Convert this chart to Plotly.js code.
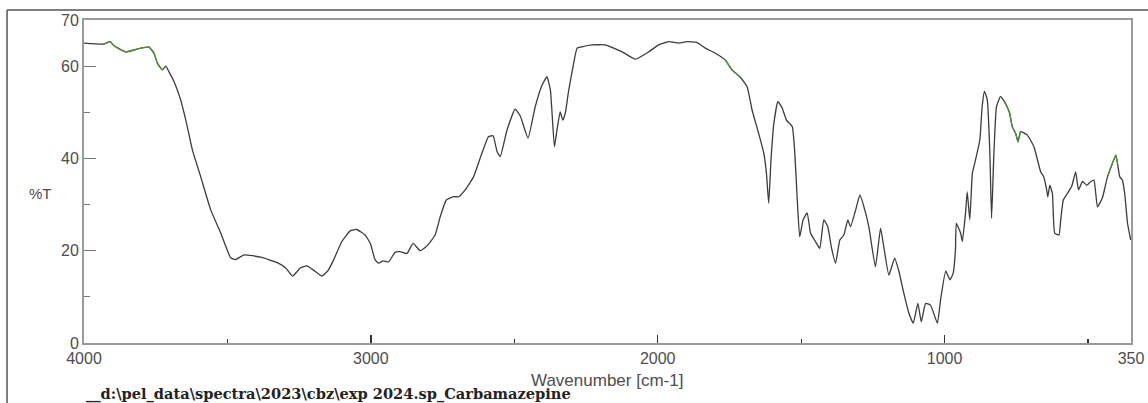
<!DOCTYPE html>
<html>
<head>
<meta charset="utf-8">
<script src="https://cdn.plot.ly/plotly-3.0.1.min.js"></script>
<style>
  html, body { margin: 0; padding: 0; background: #ffffff; }
  #chart { width: 1148px; height: 403px; }
</style>
</head>
<body>
<div id="chart"></div>
<script>
// Wavenumber (cm-1)
const wavenumber = [4000,3930,3909,3895,3855,3826,3802,3773,3756,3744,3727,3715,3704,3686,3663,3651,3640,3622,3593,3558,3523,3488,3471,3442,3384,3326,3296,3273,3245,3223,3200,3171,3148,3130,3101,3072,3049,3020,3002,2985,2973,2956,2938,2915,2898,2874,2853,2828,2805,2776,2758,2737,2712,2694,2671,2642,2613,2590,2574,2560,2549,2525,2497,2479,2452,2427,2403,2386,2374,2360,2351,2340,2331,2322,2311,2293,2281,2264,2229,2183,2124,2078,2031,1997,1962,1927,1898,1863,1834,1799,1764,1741,1712,1688,1671,1648,1630,1621,1613,1605,1595,1581,1566,1551,1531,1522,1514,1505,1493,1479,1467,1450,1435,1421,1407,1395,1380,1365,1351,1337,1328,1310,1295,1281,1264,1241,1223,1212,1194,1174,1159,1142,1124,1109,1093,1081,1066,1049,1025,1014,996,981,970,962,959,944,938,927,921,912,903,892,877,869,861,851,842,836,828,819,805,791,782,773,764,752,744,735,712,688,665,654,644,640,633,624,616,601,595,586,572,557,543,533,519,504,490,479,467,450,432,415,403,397,389,380,372,362,351];
// Transmittance (%T)
const transmittance = [65.0,64.8,65.3,64.4,63.1,63.5,63.9,64.1,62.8,60.6,59.2,60.0,58.8,56.6,52.7,49.8,46.9,41.8,36.0,28.8,23.8,18.4,18.1,19.1,18.6,17.4,16.2,14.5,16.3,16.7,15.8,14.5,15.8,18.0,22.0,24.3,24.6,23.4,21.6,18.0,17.3,17.8,17.6,19.7,19.8,19.4,21.6,20.0,21.0,23.4,27.4,31.0,31.7,31.7,33.2,36.0,41.1,44.7,44.9,41.5,40.4,46.2,50.7,49.2,44.4,51.2,55.9,57.7,54.8,42.5,46.2,50.1,48.3,49.8,54.5,60.6,63.9,64.2,64.6,64.6,63.1,61.5,63.1,64.6,65.3,65.0,65.3,65.1,63.9,62.8,61.3,59.2,57.6,55.5,50.5,45.4,41.1,36.8,30.3,39.7,47.6,52.3,50.9,48.3,46.9,41.1,31.7,23.0,26.7,28.2,23.8,22.0,20.5,26.7,25.2,20.9,17.3,22.3,23.4,26.7,25.2,28.8,32.1,29.5,25.2,16.5,24.9,20.9,14.7,18.4,15.5,10.8,6.4,4.3,8.6,4.6,8.6,8.2,4.3,9.3,15.6,13.7,15.1,20.2,25.9,23.8,22.0,28.1,32.8,26.7,36.8,39.7,44.0,51.2,54.5,52.7,41.1,27.0,41.1,51.2,53.4,52.3,51.2,49.8,46.9,45.4,43.6,45.8,45.1,42.5,37.1,36.0,33.2,31.7,34.2,32.4,23.8,23.4,26.7,31.0,32.4,33.9,37.1,33.2,35.0,34.2,35.0,35.3,29.5,31.4,36.0,38.9,40.7,38.9,36.0,35.3,32.4,25.9,22.3];
// Axis ticks
const xTickVals = [4000, 3000, 2000, 1000, 350];
const xTickText = ["4000", "3000", "2000", "1000", "350"];
const yTickVals = [0, 20, 40, 60, 70];
const yTickText = ["0", "20", "40", "60", "70"];
// Regions drawn in green (noisy parts of the trace)
const greenRanges = [[3935, 3750], [3745, 3712], [1790, 1700], [800, 735], [432, 395]];

const inGreen = w => greenRanges.some(r => w <= r[0] && w >= r[1]);
const greenY = transmittance.map((t, i) => inGreen(wavenumber[i]) ? t : null);

const tickFont = { family: "Liberation Sans, Arial, sans-serif", size: 16, color: "#4d4d4d" };

const traces = [
  {
    x: wavenumber, y: transmittance, type: "scatter", mode: "lines",
    line: { color: "#3c3c3c", width: 1.3, shape: "spline", smoothing: 0.4 }, hoverinfo: "skip", showlegend: false
  },
  {
    x: wavenumber, y: greenY, type: "scatter", mode: "lines", connectgaps: false,
    line: { color: "#4f8f3a", width: 1.3, shape: "spline", smoothing: 0.4 }, hoverinfo: "skip", showlegend: false
  }
];

const layout = {
  width: 1148, height: 403,
  margin: { l: 84, r: 17, t: 20, b: 60, pad: 0 },
  paper_bgcolor: "#ffffff", plot_bgcolor: "#ffffff",
  showlegend: false,
  xaxis: {
    range: [4000, 350], tickmode: "array", tickvals: xTickVals, ticktext: xTickText,
    ticks: "inside", ticklen: 8, tickwidth: 1.5, tickcolor: "#333",
    minor: { dtick: 500, tick0: 0, ticks: "inside", ticklen: 4, tickwidth: 1.2, tickcolor: "#333", showgrid: false },
    showgrid: false, zeroline: false,
    showline: true, linecolor: "#9a9a9a", linewidth: 2, mirror: true,
    tickfont: tickFont
  },
  yaxis: {
    range: [0, 70], tickmode: "array", tickvals: yTickVals, ticktext: yTickText,
    ticks: "inside", ticklen: 12, tickwidth: 1.2, tickcolor: "#777",
    minor: { dtick: 10, tick0: 0, ticks: "inside", ticklen: 6, tickwidth: 1.2, tickcolor: "#777", showgrid: false },
    showgrid: false, zeroline: false,
    showline: true, linecolor: "#9a9a9a", linewidth: 2, mirror: true,
    tickfont: tickFont
  },
  annotations: [
    { text: "%T", xref: "paper", yref: "paper", x: -0.042, y: 0.464, xanchor: "center", yanchor: "middle",
      showarrow: false, font: { family: "Liberation Sans, Arial, sans-serif", size: 15, color: "#4d4d4d" } },
    { text: "Wavenumber [cm-1]", xref: "paper", yref: "paper", x: 0.4995, y: -0.1146, xanchor: "center", yanchor: "middle",
      showarrow: false, font: { family: "Liberation Sans, Arial, sans-serif", size: 17, color: "#4d4d4d" } },
    { text: "__d:\\pel_data\\spectra\\2023\\cbz\\exp 2024.sp_Carbamazepine", xref: "paper", yref: "paper",
      x: 0.0, y: -0.159, xanchor: "left", yanchor: "middle", showarrow: false,
      font: { family: "DejaVu Serif, serif", size: 14.6, color: "#222", weight: "bold" } }
  ],
  shapes: [
    { type: "line", xref: "paper", yref: "paper", x0: -0.0735, x1: 1.05, y0: 1.031, y1: 1.031,
      line: { color: "#555", width: 1.5 } },
    { type: "line", xref: "paper", yref: "paper", x0: -0.0735, x1: -0.0735, y0: 1.031, y1: -0.25,
      line: { color: "#555", width: 1.5 } }
  ]
};

Plotly.newPlot("chart", traces, layout, { displayModeBar: false, staticPlot: true });
</script>
</body>
</html>
